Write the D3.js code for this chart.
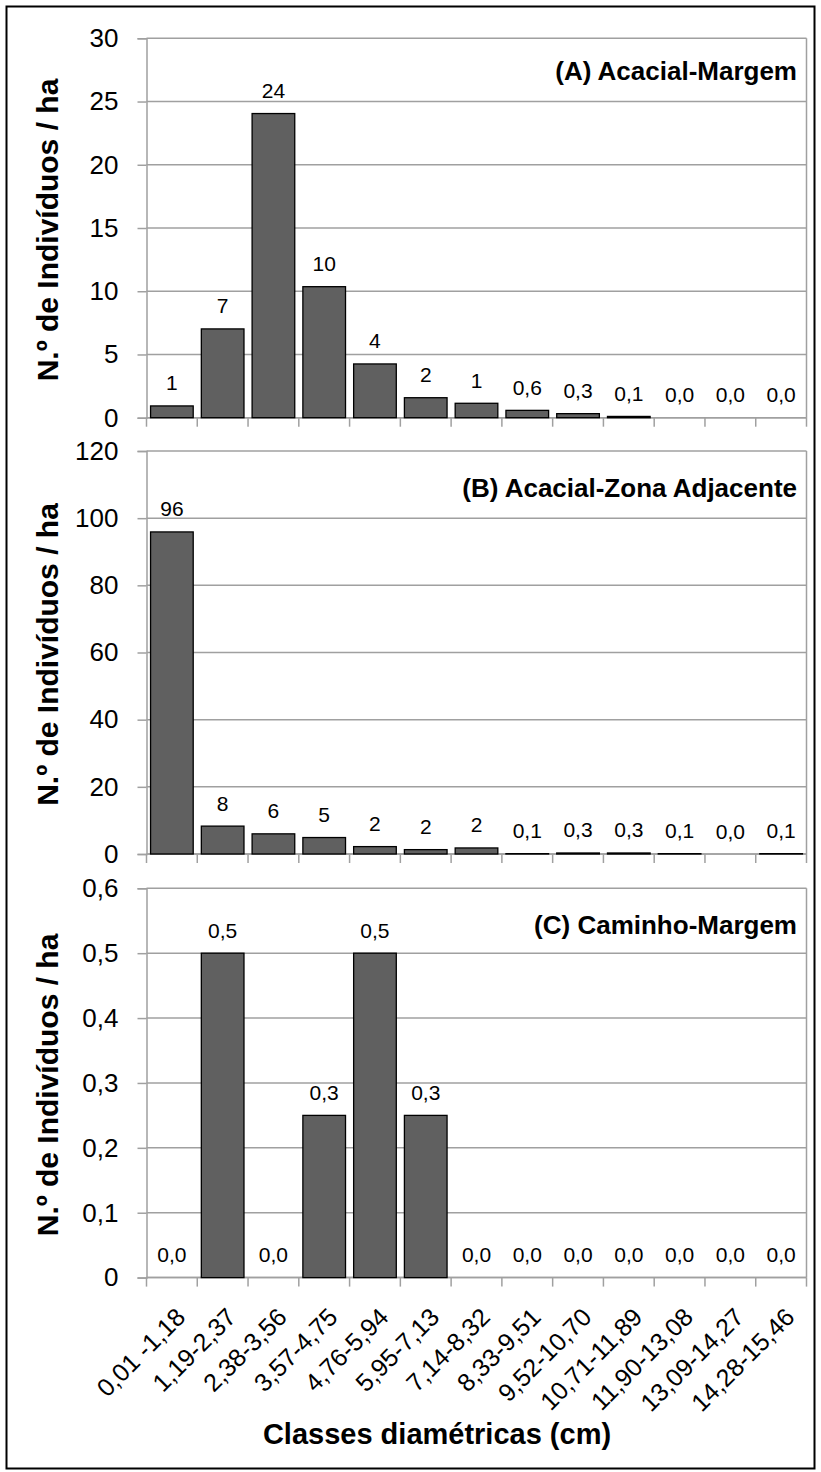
<!DOCTYPE html>
<html>
<head>
<meta charset="utf-8">
<script src="https://cdn.jsdelivr.net/npm/d3@7"></script>
<style>
  html, body { margin: 0; padding: 0; background: #fff; }
  svg { display: block; }
  text { font-family: "Liberation Sans", Arial, sans-serif; }
</style>
</head>
<body>
<script>
const categories = ["0,01 -1,18", "1,19-2,37", "2,38-3,56", "3,57-4,75", "4,76-5,94", "5,95-7,13", "7,14-8,32", "8,33-9,51", "9,52-10,70", "10,71-11,89", "11,90-13,08", "13,09-14,27", "14,28-15,46"];

const valuesA = [0.93, 7.02, 24.05, 10.36, 4.25, 1.58, 1.14, 0.58, 0.32, 0.1, 0, 0, 0];
const labelsA = ["1", "7", "24", "10", "4", "2", "1", "0,6", "0,3", "0,1", "0,0", "0,0", "0,0"];
const ticksA = [0, 5, 10, 15, 20, 25, 30];
const tickLabelsA = ["0", "5", "10", "15", "20", "25", "30"];

const valuesB = [95.9, 8.3, 6.0, 4.9, 2.2, 1.3, 1.8, 0.1, 0.3, 0.3, 0.1, 0, 0.1];
const labelsB = ["96", "8", "6", "5", "2", "2", "2", "0,1", "0,3", "0,3", "0,1", "0,0", "0,1"];
const ticksB = [0, 20, 40, 60, 80, 100, 120];
const tickLabelsB = ["0", "20", "40", "60", "80", "100", "120"];

const valuesC = [0, 0.5, 0, 0.25, 0.5, 0.25, 0, 0, 0, 0, 0, 0, 0];
const labelsC = ["0,0", "0,5", "0,0", "0,3", "0,5", "0,3", "0,0", "0,0", "0,0", "0,0", "0,0", "0,0", "0,0"];
const ticksC = [0, 0.1, 0.2, 0.3, 0.4, 0.5, 0.6];
const tickLabelsC = ["0", "0,1", "0,2", "0,3", "0,4", "0,5", "0,6"];

const titles = ["(A) Acacial-Margem", "(B) Acacial-Zona Adjacente", "(C) Caminho-Margem"];
const yTitle = "N.º de Indivíduos / ha";
const xTitle = "Classes diamétricas (cm)";

const W = 821, H = 1472;
const svg = d3.select("body").append("svg").attr("width", W).attr("height", H);

svg.append("rect").attr("x", 6.5).attr("y", 6.5).attr("width", 808).attr("height", 1462)
  .attr("fill", "#fff").attr("stroke", "#000").attr("stroke-width", 2);

const left = 146.5, right = 806.5;
const x = d3.scaleBand().domain(categories).range([left, right]).paddingInner(0.16).paddingOuter(0.08);

const panels = [
  {values: valuesA, labels: labelsA, ticks: ticksA, tickLabels: tickLabelsA, top: 38.3, bottom: 417.7, title: titles[0], titleY: 80},
  {values: valuesB, labels: labelsB, ticks: ticksB, tickLabels: tickLabelsB, top: 451, bottom: 854, title: titles[1], titleY: 497},
  {values: valuesC, labels: labelsC, ticks: ticksC, tickLabels: tickLabelsC, top: 888.3, bottom: 1277.6, title: titles[2], titleY: 934}
];

const grid = "#a0a0a0";

panels.forEach((p, pi) => {
  const y = d3.scaleLinear().domain([0, d3.max(p.ticks)]).range([p.bottom, p.top]);
  const g = svg.append("g");

  // gridlines
  g.append("g").selectAll("line").data(p.ticks).join("line")
    .attr("x1", left).attr("x2", right)
    .attr("y1", d => y(d)).attr("y2", d => y(d))
    .attr("stroke", grid).attr("stroke-width", 1.5);

  // right border
  g.append("line").attr("x1", right).attr("x2", right).attr("y1", y(d3.max(p.ticks))).attr("y2", y(0))
    .attr("stroke", grid).attr("stroke-width", 1.5);

  // y axis
  const ya = d3.axisLeft(y).tickValues(p.ticks).tickFormat((d, i) => p.tickLabels[i]).tickSize(9).tickPadding(19);
  const yg = g.append("g").attr("transform", `translate(${left},0)`).call(ya);
  yg.select(".domain").attr("stroke", grid).attr("stroke-width", 1.5);
  yg.selectAll(".tick line").attr("stroke", grid).attr("stroke-width", 1.5);
  yg.selectAll(".tick text").attr("fill", "#000").attr("font-size", 26)
    .attr("font-family", "Liberation Sans, Arial, sans-serif");

  // x axis line + ticks at band boundaries
  g.append("line").attr("x1", left).attr("x2", right).attr("y1", y(0)).attr("y2", y(0))
    .attr("stroke", grid).attr("stroke-width", 1.5);
  const bounds = categories.map(c => x(c) - x.step() * x.paddingInner() / 2).concat([right]);
  g.append("g").selectAll("line").data(bounds).join("line")
    .attr("x1", d => d).attr("x2", d => d)
    .attr("y1", y(0)).attr("y2", y(0) + 9)
    .attr("stroke", grid).attr("stroke-width", 1.5);

  // bars
  g.append("g").selectAll("rect").data(p.values).join("rect")
    .attr("x", (d, i) => x(categories[i]))
    .attr("width", x.bandwidth())
    .attr("y", d => y(d))
    .attr("height", d => y(0) - y(d))
    .attr("fill", "#606060")
    .attr("stroke", "#000").attr("stroke-width", d => d > 0 ? 1.3 : 0);

  // data labels
  g.append("g").selectAll("text").data(p.values).join("text")
    .attr("x", (d, i) => x(categories[i]) + x.bandwidth() / 2)
    .attr("y", d => y(d) - 15.5)
    .attr("text-anchor", "middle")
    .attr("font-size", 21)
    .attr("fill", "#000")
    .text((d, i) => p.labels[i]);

  // panel title
  g.append("text").attr("x", 797).attr("y", p.titleY)
    .attr("text-anchor", "end").attr("font-size", 26).attr("font-weight", "bold")
    .text(p.title);

  // y title
  g.append("text")
    .attr("transform", `translate(58,${(p.top + p.bottom) / 2 + 2}) rotate(-90)`)
    .attr("text-anchor", "middle").attr("font-size", 30).attr("font-weight", "bold")
    .text(yTitle);

  // x labels only on last panel
  if (pi === 2) {
    g.append("g").selectAll("text").data(categories).join("text")
      .attr("transform", c => `translate(${x(c) + x.bandwidth() / 2 + 15},${y(0) + 41}) rotate(-45)`)
      .attr("text-anchor", "end")
      .attr("font-size", 25)
      .text(c => c);
  }
});

svg.append("text").attr("x", 437).attr("y", 1444)
  .attr("text-anchor", "middle").attr("font-size", 29).attr("font-weight", "bold")
  .text(xTitle);
</script>
</body>
</html>
